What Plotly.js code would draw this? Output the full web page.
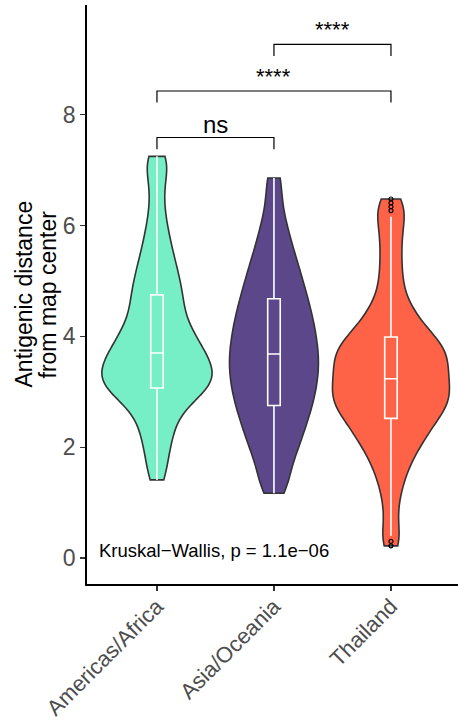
<!DOCTYPE html>
<html>
<head>
<meta charset="utf-8">
<script src="https://cdn.plot.ly/plotly-3.0.1.min.js"></script>
<style>html,body{margin:0;padding:0;background:#fff;}#chart{width:458px;height:727px;}</style>
</head>
<body>
<div id="chart"></div>
<script>
// ---- data ----
const categories = ['Americas/Africa', 'Asia/Oceania', 'Thailand'];
const colors = ['#76EEC6', '#5D478B', '#FF6347'];

const americasValues = [1.41, 1.66, 1.88, 2.06, 2.22, 2.36, 2.49, 2.60, 2.70, 2.79, 2.87, 2.93,
  2.98, 3.02, 3.05, 3.09, 3.14, 3.17, 3.22, 3.26, 3.29, 3.34, 3.37, 3.42, 3.45, 3.50, 3.53, 3.58,
  3.62, 3.66, 3.74, 3.78, 3.83, 3.88, 3.93, 3.99, 4.05, 4.12, 4.19, 4.27, 4.35, 4.44, 4.53, 4.62,
  4.71, 4.79, 4.89, 4.99, 5.09, 5.20, 5.32, 5.45, 5.60, 5.77, 5.97, 6.22, 6.55, 6.88, 7.10, 7.25];

const asiaValues = [1.17, 1.38, 1.58, 1.76, 1.91, 2.031, 2.15, 2.257, 2.358, 2.453, 2.544, 2.63,
  2.715, 2.793, 2.871, 2.947, 3.02, 3.094, 3.165, 3.236, 3.307, 3.375, 3.444, 3.512, 3.58, 3.649,
  3.717, 3.787, 3.857, 3.928, 4.002, 4.075, 4.15, 4.226, 4.302, 4.382, 4.464, 4.548, 4.636, 4.726,
  4.822, 4.92, 5.027, 5.136, 5.256, 5.385, 5.526, 5.691, 5.884, 6.11, 6.45, 6.86];

const thailandValues = [0.22, 0.30, 0.40, 0.62, 0.85, 1.05, 1.20, 1.33, 1.45, 1.55, 1.63, 1.70,
  1.77, 1.84, 1.91, 1.97, 2.02, 2.06, 2.10, 2.15, 2.18, 2.22, 2.27, 2.30, 2.34, 2.37, 2.41, 2.44,
  2.48, 2.52, 2.55, 2.57, 2.60, 2.63, 2.65, 2.68, 2.70, 2.72, 2.75, 2.77, 2.80, 2.82, 2.84, 2.87,
  2.89, 2.92, 2.94, 2.96, 2.99, 3.01, 3.03, 3.06, 3.08, 3.10, 3.13, 3.15, 3.17, 3.20, 3.22, 3.25,
  3.29, 3.31, 3.34, 3.36, 3.39, 3.41, 3.44, 3.46, 3.48, 3.51, 3.53, 3.56, 3.58, 3.61, 3.63, 3.66,
  3.68, 3.71, 3.73, 3.76, 3.78, 3.81, 3.83, 3.86, 3.88, 3.91, 3.94, 3.96, 3.99, 4.02, 4.06, 4.10,
  4.15, 4.19, 4.24, 4.29, 4.34, 4.39, 4.44, 4.50, 4.58, 4.67, 4.77, 4.88, 5.01, 5.13, 5.26, 5.39,
  5.53, 5.67, 5.80, 5.93, 6.05, 6.16, 6.27, 6.34, 6.41, 6.48];

const groupValues = [americasValues, asiaValues, thailandValues];

// significance comparisons
const compFrom = [0, 0, 1];
const compTo = [1, 2, 2];
const compY = [7.59, 8.43, 9.27];
const compLabels = ['ns', '****', '****'];
const tipLength = 0.21;

const yTicks = [0, 2, 4, 6, 8];
const testLabel = 'Kruskal\u2212Wallis, p = 1.1e\u221206';
const yTitleLines = ['Antigenic distance', 'from map center'];

// ---- styles ----
const violinWidths = [0.94, 0.76, 1.0];
const FONT = 'Liberation Sans, Arial, Helvetica, sans-serif';

const traces = [];
categories.forEach((cat, i) => {
  traces.push({
    type: 'violin',
    x: groupValues[i].map(() => cat),
    y: groupValues[i],
    name: cat,
    fillcolor: colors[i],
    line: {color: '#333333', width: 1.6},
    opacity: 1,
    spanmode: 'hard',
    bandwidth: 0.27,
    scalemode: 'width',
    width: violinWidths[i],
    points: false,
    box: {visible: false},
    meanline: {visible: false},
    hoverinfo: 'skip',
    showlegend: false
  });
});
categories.forEach((cat, i) => {
  traces.push({
    type: 'box',
    x: groupValues[i].map(() => cat),
    y: groupValues[i],
    name: cat,
    fillcolor: 'rgba(0,0,0,0)',
    line: {color: '#ffffff', width: 1.6},
    whiskerwidth: 0,
    width: 0.107,
    boxpoints: 'outliers',
    jitter: 0,
    pointpos: 0,
    marker: {color: '#000000', size: 4, symbol: 'circle-open', line: {width: 1.2, color: '#000000'}},
    hoverinfo: 'skip',
    showlegend: false
  });
});

// brackets
const annotations = [];
compFrom.forEach((a, k) => {
  const b = compTo[k];
  traces.push({
    type: 'scatter', mode: 'lines',
    x: [categories[a], categories[a], categories[b], categories[b]],
    y: [compY[k] - tipLength, compY[k], compY[k], compY[k] - tipLength],
    line: {color: '#000000', width: 1.2},
    hoverinfo: 'skip', showlegend: false
  });
  const isStars = compLabels[k].indexOf('*') >= 0;
  annotations.push({
    x: (a + b) / 2, y: compY[k], xref: 'x', yref: 'y',
    text: compLabels[k], showarrow: false,
    xanchor: 'center', yanchor: 'bottom',
    yshift: isStars ? 0 : -2,
    font: {family: FONT, size: isStars ? 22 : 24, color: '#000000'}
  });
});

annotations.push({
  x: 0, xref: 'paper', xshift: 10, y: 0.13, yref: 'y',
  text: testLabel, showarrow: false, xanchor: 'left', yanchor: 'middle',
  font: {family: FONT, size: 18.5, color: '#000000'}
});

[-64, -40].forEach((shift, i) => {
  annotations.push({
    x: 0, xref: 'paper', xshift: shift, y: 0.5, yref: 'paper',
    text: yTitleLines[i], showarrow: false, textangle: -90,
    xanchor: 'center', yanchor: 'middle',
    font: {family: FONT, size: 23, color: '#000000'}
  });
});

const layout = {
  width: 458, height: 727,
  margin: {l: 87, r: 0, t: 5, b: 143, pad: 0},
  paper_bgcolor: '#ffffff', plot_bgcolor: '#ffffff',
  showlegend: false,
  violinmode: 'overlay', boxmode: 'overlay',
  font: {family: FONT},
  xaxis: {
    type: 'category', categoryorder: 'array', categoryarray: categories,
    range: [-0.598, 2.573], showgrid: false, zeroline: false,
    showline: true, linecolor: '#000000', linewidth: 1.8,
    ticks: 'outside', ticklen: 5, tickwidth: 1.2, tickcolor: '#333333',
    tickangle: -45, ticklabelstandoff: -6,
    tickfont: {family: FONT, size: 22, color: '#4D4D4D'},
    automargin: false, fixedrange: true
  },
  yaxis: {
    range: [-0.469, 9.982], showgrid: false, zeroline: false,
    showline: true, linecolor: '#000000', linewidth: 1.8,
    tickvals: yTicks, ticktext: yTicks.map(String),
    ticks: 'outside', ticklen: 5, tickwidth: 1.2, tickcolor: '#333333',
    tickfont: {family: FONT, size: 23, color: '#4D4D4D'},
    automargin: false, fixedrange: true
  },
  annotations: annotations
};

Plotly.newPlot('chart', traces, layout, {staticPlot: true, displayModeBar: false});
</script>
</body>
</html>
